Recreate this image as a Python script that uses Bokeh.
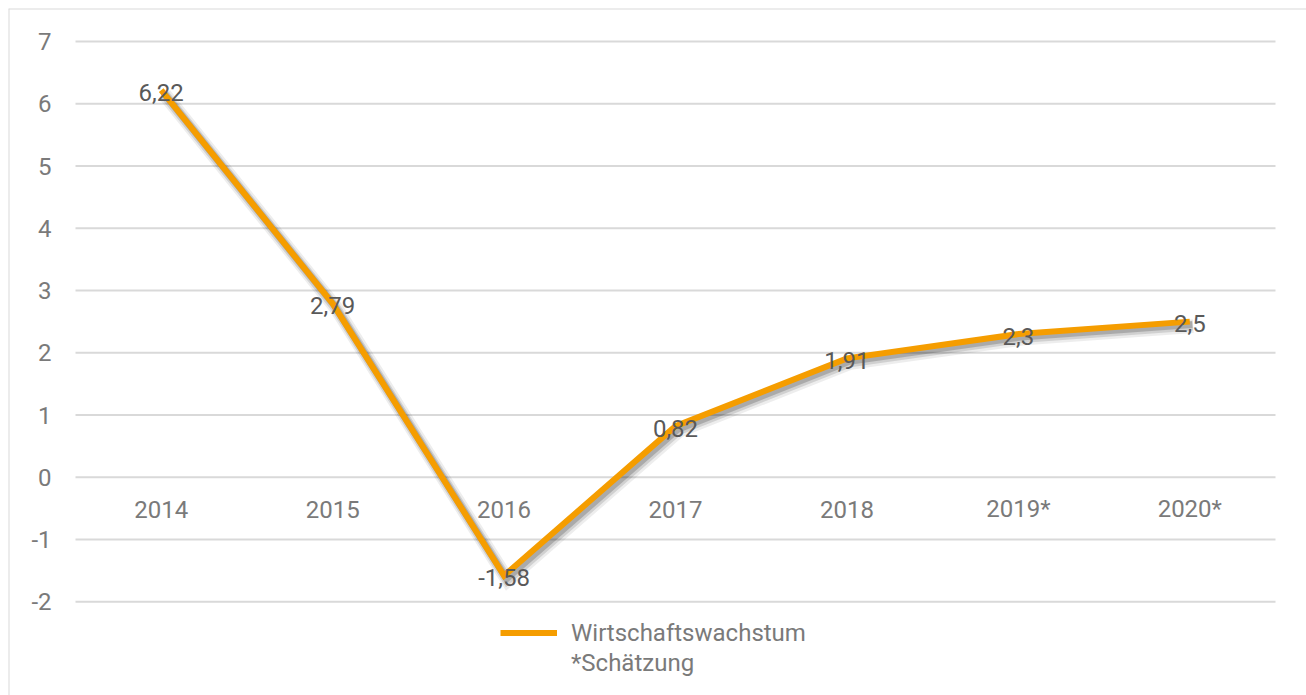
from bokeh.plotting import figure
from bokeh.models import ColumnDataSource, Range1d, Legend, LegendItem, Span
from bokeh.transform import dodge
from bokeh.core.properties import value
from bokeh.embed import file_html
from bokeh.resources import INLINE

# ---- data ----
categories = ["2014", "2015", "2016", "2017", "2018", "2019*", "2020*"]
growth = [6.22, 2.79, -1.58, 0.82, 1.91, 2.3, 2.5]
y_ticks = [-2, -1, 0, 1, 2, 3, 4, 5, 6, 7]
series_name = "Wirtschaftswachstum"
note = "*Schätzung"

# ---- layout constants (pixels) ----
W, H = 1306, 695
FRAME_L, FRAME_T = 8, 8
GRID_L, GRID_R = 75, 1275
Y7_PX, PX_PER_Y = 41, 62.25
px_per_x = (GRID_R - GRID_L) / len(categories)

n = len(categories)
xs = list(range(n))
x_start = -0.5 - (GRID_L - FRAME_L) / px_per_x
x_end = x_start + (W - FRAME_L) / px_per_x
top_tick = max(y_ticks)
y_end = top_tick + (Y7_PX - FRAME_T) / PX_PER_Y
y_start = top_tick - (H - Y7_PX) / PX_PER_Y

FONT = value("Roboto")
AXIS_COLOR = "#7a7a7a"
LABEL_COLOR = "#595959"
GRID_COLOR = "#d9d9d9"
ORANGE = "#F59D00"

p = figure(width=W, height=H, output_backend="svg", toolbar_location=None,
           x_axis_type=None, y_axis_type=None,
           x_range=Range1d(x_start, x_end), y_range=Range1d(y_start, y_end),
           min_border_left=FRAME_L, min_border_top=FRAME_T,
           min_border_right=0, min_border_bottom=0)
p.outline_line_color = None
p.background_fill_color = "white"
p.border_fill_color = "white"

# chart-area border (left and top only visible)
p.add_layout(Span(location=x_start, dimension="height", line_color=GRID_COLOR, line_width=2))
p.add_layout(Span(location=y_end, dimension="width", line_color=GRID_COLOR, line_width=2))

# gridlines
grid_src = ColumnDataSource(dict(y=y_ticks,
                                 x0=[xs[0] - 0.5] * len(y_ticks),
                                 x1=[xs[-1] + 0.5] * len(y_ticks),
                                 lab=[str(t) for t in y_ticks]))
p.segment(x0="x0", x1="x1", y0="y", y1="y", source=grid_src,
          line_color=GRID_COLOR, line_width=2)

# y tick labels
p.text(x="x0", y="y", text="lab", source=grid_src, x_offset=-24,
       text_align="right", text_baseline="middle", text_font=FONT,
       text_font_size="24px", text_color=AXIS_COLOR)

# category labels at y = 0
src = ColumnDataSource(dict(x=xs, y=growth, cat=categories,
                            zero=[0] * n,
                            lab=[str(v).replace(".", ",") for v in growth]))
p.text(x="x", y="zero", text="cat", source=src, y_offset=32,
       text_align="center", text_baseline="middle", text_font=FONT,
       text_font_size="24px", text_color=AXIS_COLOR)

# shadow (soft, offset down-right)
p.line(x=dodge("x", 3.5 / px_per_x), y=dodge("y", -4.5 / PX_PER_Y), source=src,
       line_color="#000000", line_alpha=0.07, line_width=14, line_join="miter")
p.line(x=dodge("x", 3 / px_per_x), y=dodge("y", -4 / PX_PER_Y), source=src,
       line_color="#000000", line_alpha=0.12, line_width=10, line_join="miter")
p.line(x=dodge("x", 2.5 / px_per_x), y=dodge("y", -3 / PX_PER_Y), source=src,
       line_color="#000000", line_alpha=0.18, line_width=7, line_join="miter")

# main line
main = p.line(x="x", y="y", source=src, line_color=ORANGE, line_width=6,
              line_join="miter", line_cap="butt")

# data labels
p.text(x="x", y="y", text="lab", source=src, y_offset=2,
       text_align="center", text_baseline="middle", text_font=FONT,
       text_font_size="24px", text_color=LABEL_COLOR)

dummy = p.line(x=[], y=[], line_alpha=0)

legend = Legend(items=[LegendItem(label=series_name, renderers=[main]),
                       LegendItem(label=note, renderers=[dummy])],
                location=(500 - FRAME_L, 18))
legend.border_line_color = None
legend.background_fill_alpha = 0
legend.label_text_font = "Roboto"
legend.label_text_font_size = "24px"
legend.label_text_color = AXIS_COLOR
legend.glyph_width = 57
legend.glyph_height = 29
legend.label_height = 29
legend.label_standoff = 14
legend.spacing = 1
legend.padding = 0
legend.margin = 0
p.add_layout(legend)

open("out.html", "w").write(file_html(p, INLINE))
